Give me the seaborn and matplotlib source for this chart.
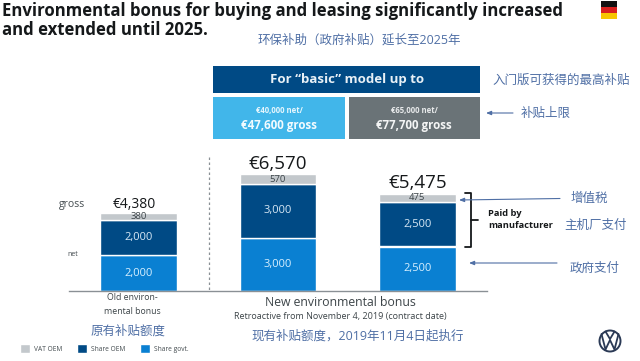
import matplotlib
matplotlib.use("Agg")
import matplotlib.pyplot as plt
from matplotlib.patches import Rectangle, Circle
import pandas as pd
import seaborn as sns

categories = ["Old", "New A", "New B"]
vat_oem = [380, 570, 475]
share_oem = [2000, 3000, 2500]
share_govt = [2000, 3000, 2500]
totals = ["€4,380", "€6,570", "€5,475"]
total_sizes = [10, 13.5, 13.5]
series_names = ["VAT OEM", "Share OEM", "Share govt."]
C_VAT, C_OEM, C_GOV = "#c3c8cc", "#004a85", "#0a80d2"

sns.set_theme(style="white")
LAT = "Open Sans"
CJK = "Noto Sans CJK SC"
plt.rcParams["font.family"] = [LAT, CJK, "DejaVu Sans"]

W, H = 640, 361
fig = plt.figure(figsize=(W / 100, H / 100), dpi=100, facecolor="white")

# full-figure overlay in pixel coordinates
ov = fig.add_axes([0, 0, 1, 1], zorder=0)
ov.set_xlim(0, W); ov.set_ylim(H, 0); ov.axis("off")

# bar axes: baseline at y=291, spans x 69..487
ax = fig.add_axes([69 / W, 1 - 291 / H, 418 / W, 142.4 / H], zorder=1)
ax.patch.set_alpha(0)
df = pd.DataFrame({"cat": categories, "vat": vat_oem, "oem": share_oem, "gov": share_govt})
df["b_oem"] = df["gov"]
df["b_vat"] = df["gov"] + df["oem"]
sns.barplot(data=df, x="cat", y="gov", color=C_GOV, saturation=1, width=0.552, ax=ax, label=series_names[2])
sns.barplot(data=df, x="cat", y="oem", bottom=df["b_oem"], color=C_OEM, saturation=1, width=0.552, ax=ax, label=series_names[1])
sns.barplot(data=df, x="cat", y="vat", bottom=df["b_vat"], color=C_VAT, saturation=1, width=0.552, ax=ax, label=series_names[0])
ax.set_xlim(-0.5, 2.5); ax.set_ylim(0, 8000)
ax.set_xlabel(""); ax.set_ylabel(""); ax.set_xticks([]); ax.set_yticks([])
for s in ["top", "left", "right"]:
    ax.spines[s].set_visible(False)
ax.spines["bottom"].set_color("#8a9095"); ax.spines["bottom"].set_linewidth(1.0)

gov_c, oem_c, vat_c = ax.containers[:3]
ax.bar_label(gov_c, labels=[f"{v:,}" for v in share_govt], label_type="center", color="#d8f0ff", fontsize=8)
ax.bar_label(oem_c, labels=[f"{v:,}" for v in share_oem], label_type="center", color="#d8e8f5", fontsize=8)
ax.bar_label(vat_c, labels=[f"{v:,}" for v in vat_oem], label_type="center", color="#3c4448", fontsize=6.8)
for i, (rect, t, fs) in enumerate(zip(vat_c, totals, total_sizes)):
    ax.annotate(t, (rect.get_x() + rect.get_width() / 2, rect.get_y() + rect.get_height()),
                xytext=(-3 if i == 0 else 0, 1), textcoords="offset points",
                ha="center", va="bottom", fontsize=fs, color="#15181a")

handles, labels = ax.get_legend_handles_labels()
leg = ax.legend(handles[::-1], labels[::-1], ncol=3, frameon=False, loc="lower left",
                bbox_to_anchor=(20 / W, 1 - 353 / H), bbox_transform=fig.transFigure,
                fontsize=4.8, handlelength=1.5, handleheight=1.6, handletextpad=0.6,
                columnspacing=2.2, labelcolor="#444c50", borderpad=0, borderaxespad=0)


def tx(x, y, s, size, color="#3c4448", ha="center", weight="normal"):
    ov.text(x, y, s, fontsize=size, color=color, ha=ha, va="center", fontweight=weight)


# title
tx(2, 11, "Environmental bonus for buying and leasing significantly increased", 12.1, "#15181a", "left", "bold")
tx(2, 30, "and extended until 2025.", 12.1, "#15181a", "left", "bold")

# flag
for y0, c in zip([1, 7, 13], ["#111111", "#d8201f", "#f7c600"]):
    ov.add_patch(Rectangle((601, y0), 16, 6, color=c, lw=0))

# boxes
ov.add_patch(Rectangle((213, 66), 267, 27, color="#004a85", lw=0))
ov.add_patch(Rectangle((213, 97), 132, 42, color="#41b6ea", lw=0))
ov.add_patch(Rectangle((349, 97), 131, 42, color="#6a7377", lw=0))
tx(347, 80, "For “basic” model up to", 9.5, "#e8f0f6", weight="bold")
tx(279, 111, "€40,000 net/", 5.6, "#e6f6fd", weight="bold")
tx(279, 126, "€47,600 gross", 8.3, "#f2fbff", weight="bold")
tx(414, 111, "€65,000 net/", 5.6, "#e8eaeb", weight="bold")
tx(414, 126, "€77,700 gross", 8.3, "#f4f5f5", weight="bold")

# Chinese annotations
BL = "#4f6fa5"
tx(359, 40, "环保补助（政府补贴）延长至2025年", 9, BL)
tx(561, 80, "入门版可获得的最高补贴", 9, BL)
tx(546, 113, "补贴上限", 9, BL)
tx(589, 198, "增值税", 9, BL)
tx(596, 225, "主机厂支付", 9, BL)
tx(595, 268, "政府支付", 9, BL)
tx(128, 331, "原有补贴额度", 9, BL)
tx(358, 336, "现有补贴额度，2019年11月4日起执行", 9, BL)

# other labels
tx(72, 205, "gross", 7.5, "#444c50")
tx(73, 255, "net", 5, "#444c50")
tx(132, 298, "Old environ-", 6.3)
tx(132, 311, "mental bonus", 6.3)
tx(340, 303, "New environmental bonus", 8.8)
tx(340, 316, "Retroactive from November 4, 2019 (contract date)", 6.5)
tx(488, 213, "Paid by", 6.7, "#15181a", "left", "bold")
tx(488, 226, "manufacturer", 6.7, "#15181a", "left", "bold")

# separator
ov.plot([209, 209], [157, 291], color="#8a9095", lw=0.9, ls=(0, (2, 2)))

# bracket
ov.plot([465, 471, 471, 465], [193, 193, 246.5, 246.5], color="#15181a", lw=1.3, solid_joinstyle="round")
ov.plot([471, 478], [220, 220], color="#15181a", lw=1.3)

# arrows
for x0, x1, y0, y1 in [(560, 459, 198.5, 200), (557, 469, 263, 263), (513, 486, 113, 113)]:
    ov.annotate("", xy=(x1, y1), xytext=(x0, y0),
                arrowprops=dict(arrowstyle="-|>,head_length=0.25,head_width=0.1", color=BL, lw=0.8,
                                shrinkA=0, shrinkB=0))

# logo
ov.add_patch(Circle((610, 341), 10.5, fc="white", ec="#2b3a55", lw=1.4))
ov.plot([601.5, 605.5, 610, 614.5, 618.5], [334, 349.5, 340, 349.5, 334], color="#2b3a55", lw=1.3)
ov.plot([605.5, 610, 614.5], [331.5, 339, 331.5], color="#2b3a55", lw=1.3)

fig.savefig("out.png", dpi=100, facecolor="white")
